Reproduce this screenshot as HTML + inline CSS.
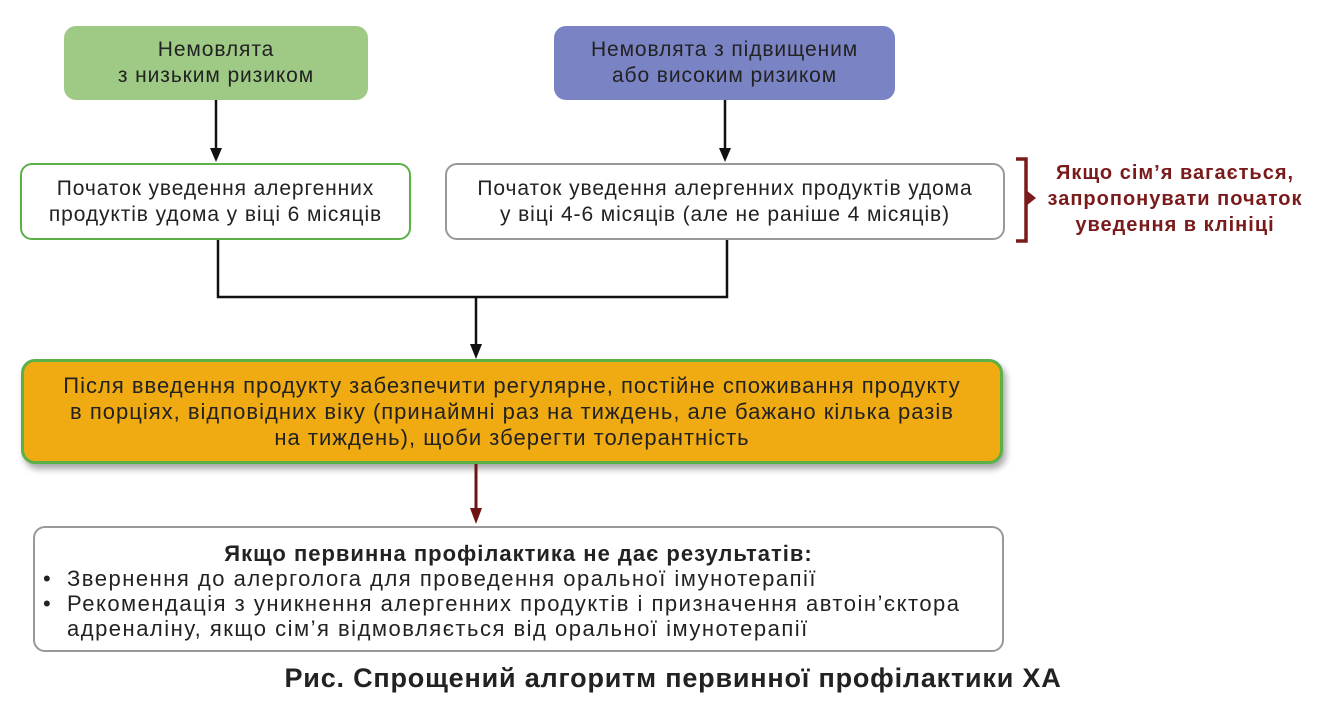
<!DOCTYPE html>
<html><head><meta charset="utf-8"><style>
body{margin:0;width:1324px;height:705px;background:#fff;position:relative;font-family:"Liberation Sans","DejaVu Sans",sans-serif;color:#222;overflow:hidden}
.b{position:absolute;box-sizing:border-box;display:flex;align-items:center;justify-content:center;text-align:center;font-size:21px;letter-spacing:0.9px;line-height:26px;white-space:nowrap}
</style></head><body>
<div class="b" style="left:64px;top:26px;width:304px;height:74px;background:#9fca85;border-radius:12px">Немовлята<br>з низьким ризиком</div>
<div class="b" style="left:554px;top:26px;width:341px;height:74px;background:#7a83c3;border-radius:12px">Немовлята з підвищеним<br>або високим ризиком</div>
<div class="b" style="left:20px;top:163px;width:391px;height:77px;border:2.5px solid #5bb046;border-radius:12px">Початок уведення алергенних<br>продуктів удома у віці 6 місяців</div>
<div class="b" style="left:445px;top:163px;width:560px;height:77px;border:2.5px solid #999;border-radius:12px">Початок уведення алергенних продуктів удома<br>у віці 4-6 місяців (але не раніше 4 місяців)</div>
<div class="b" style="left:1040px;top:159px;width:270px;height:80px;color:#7a1a1a;font-weight:bold;font-size:20px;letter-spacing:1px">Якщо сім’я вагається,<br>запропонувати початок<br>уведення в клініці</div>
<div class="b" style="left:21px;top:359px;width:982px;height:105px;background:#f0ab12;border:3px solid #5bb046;border-radius:14px;box-shadow:3px 5px 7px rgba(0,0,0,0.35);font-size:22px;letter-spacing:1px">Після введення продукту забезпечити регулярне, постійне споживання продукту<br>в порціях, відповідних віку (принаймні раз на тиждень, але бажано кілька разів<br>на тиждень), щоби зберегти толерантність</div>
<div class="b" style="left:33px;top:526px;width:971px;height:126px;border:2.5px solid #999;border-radius:12px;display:block;text-align:left;padding:13px 0 0 32px;line-height:25px;font-size:22px;letter-spacing:1.5px">
<div style="text-align:center;font-weight:bold;margin-left:-32px;letter-spacing:1px">Якщо первинна профілактика не дає результатів:</div>
<div style="position:relative"><span style="position:absolute;left:-24px">•</span>Звернення до алерголога для проведення оральної імунотерапії</div>
<div style="position:relative"><span style="position:absolute;left:-24px">•</span>Рекомендація з уникнення алергенних продуктів і призначення автоін’єктора<br>адреналіну, якщо сім’я відмовляється від оральної імунотерапії</div>
</div>
<div class="b" style="left:0;top:660px;width:1346px;height:36px;font-weight:bold;font-size:27px;letter-spacing:0.8px">Рис. Спрощений алгоритм первинної профілактики ХА</div>
<svg width="1324" height="705" style="position:absolute;left:0;top:0;pointer-events:none">
<g stroke="#111" stroke-width="2.5" fill="none">
<line x1="216" y1="100" x2="216" y2="152"/>
<line x1="725" y1="100" x2="725" y2="152"/>
<polyline points="218,240 218,297 727,297 727,240"/>
<line x1="476" y1="297" x2="476" y2="348"/>
</g>
<g fill="#111">
<polygon points="210,148 222,148 216,162"/>
<polygon points="719,148 731,148 725,162"/>
<polygon points="470,344 482,344 476,359"/>
</g>
<line x1="476" y1="464" x2="476" y2="512" stroke="#6e1414" stroke-width="3"/>
<polygon points="470,508 482,508 476,524" fill="#6e1414"/>
<polyline points="1016,159 1026,159 1026,241 1016,241" stroke="#7a1a1a" stroke-width="3.5" fill="none"/>
<polygon points="1026,190 1036,198 1026,206" fill="#7a1a1a"/>
</svg>
</body></html>
